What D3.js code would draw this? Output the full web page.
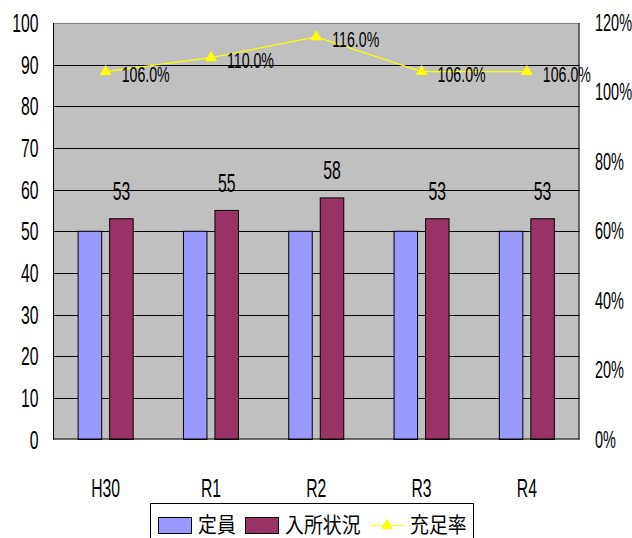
<!DOCTYPE html>
<html>
<head>
<meta charset="utf-8">
<script src="https://cdn.jsdelivr.net/npm/d3@7/dist/d3.min.js"></script>
<style>
  html, body { margin: 0; padding: 0; background: #fff; }
  svg { display: block; }
</style>
</head>
<body>
<svg id="chart" width="632" height="538"></svg>
<script>
// Fiscal years and values
const categories = ["H30", "R1", "R2", "R3", "R4"];
const capacity = [50, 50, 50, 50, 50];        // 定員
const enrolled = [53, 55, 58, 53, 53];        // 入所状況
const fillRate = [106.0, 110.0, 116.0, 106.0, 106.0]; // 充足率 (%)
const leftTicks = [0, 10, 20, 30, 40, 50, 60, 70, 80, 90, 100];
const rightTicks = [0, 20, 40, 60, 80, 100, 120];

const seriesNames = ["定員", "入所状況", "充足率"];
const colors = { cap: "#9999ff", enr: "#993366", rate: "#ffff00" };

const svg = d3.select("#chart");
const plot = { left: 53, right: 579.5, top: 23, bottom: 439.5 };

const FONT = "'Liberation Sans', Arial, sans-serif";
const SX = 0.63; // condensed glyph width

const x0 = d3.scaleBand().domain(categories).range([plot.left, plot.right]).padding(0);
const x1 = d3.scaleBand().domain(["cap", "enr"]).range([-27.5, 27.5]).paddingInner(0.254).paddingOuter(0);
const yL = d3.scaleLinear().domain([0, 100]).range([plot.bottom, plot.top]);
const yR = d3.scaleLinear().domain([0, 120]).range([plot.bottom, plot.top]);
const cx = c => x0(c) + x0.bandwidth() / 2;

// condensed text helper
function label(g, x, y, str, size, anchor, sx) {
  return g.append("text")
    .attr("transform", `translate(${x},${y}) scale(${sx},1)`)
    .attr("text-anchor", anchor)
    .attr("font-family", FONT)
    .attr("font-size", size)
    .attr("fill", "#000")
    .text(str);
}

// plot background
svg.append("rect")
  .attr("x", plot.left).attr("y", plot.top)
  .attr("width", plot.right - plot.left).attr("height", plot.bottom - plot.top)
  .attr("fill", "#c0c0c0");

// horizontal gridlines
svg.append("g").selectAll("line").data(leftTicks.filter(d => d > 0 && d < 100)).join("line")
  .attr("x1", plot.left).attr("x2", plot.right)
  .attr("y1", d => Math.round(yL(d)) + 0.5).attr("y2", d => Math.round(yL(d)) + 0.5)
  .attr("stroke", "#000").attr("stroke-width", 1);

// top border
svg.append("line")
  .attr("x1", plot.left).attr("x2", plot.right)
  .attr("y1", plot.top + 0.5).attr("y2", plot.top + 0.5)
  .attr("stroke", "#808080");

// bars
const groups = svg.append("g").selectAll("g").data(categories).join("g")
  .attr("transform", c => `translate(${cx(c)},0)`);

groups.append("rect")
  .attr("x", (c) => x1("cap"))
  .attr("width", x1.bandwidth())
  .attr("y", (c, i) => yL(capacity[i]))
  .attr("height", (c, i) => yL(0) - yL(capacity[i]))
  .attr("fill", colors.cap).attr("stroke", "#000").attr("stroke-width", 1);

groups.append("rect")
  .attr("x", (c) => x1("enr"))
  .attr("width", x1.bandwidth())
  .attr("y", (c, i) => yL(enrolled[i]))
  .attr("height", (c, i) => yL(0) - yL(enrolled[i]))
  .attr("fill", colors.enr).attr("stroke", "#000").attr("stroke-width", 1);

// enrolled value labels
categories.forEach((c, i) => {
  label(svg, cx(c) + x1("enr") + x1.bandwidth() / 2, yL(enrolled[i]) - 18.5, String(enrolled[i]), 25, "middle", SX);
});

// axes lines (left, right, bottom)
svg.append("line").attr("x1", plot.left + 0.5).attr("x2", plot.left + 0.5)
  .attr("y1", plot.top).attr("y2", plot.bottom).attr("stroke", "#000");
svg.append("line").attr("x1", plot.right - 0.5).attr("x2", plot.right - 0.5)
  .attr("y1", plot.top).attr("y2", plot.bottom).attr("stroke", "#000");
svg.append("line").attr("x1", plot.left).attr("x2", plot.right)
  .attr("y1", plot.bottom - 0.5).attr("y2", plot.bottom - 0.5).attr("stroke", "#000");

// fill-rate line
const line = d3.line().x((d, i) => cx(categories[i])).y(d => yR(d));
svg.append("path").datum(fillRate)
  .attr("d", line).attr("fill", "none")
  .attr("stroke", colors.rate).attr("stroke-width", 1.2);

const tri = d3.symbol().type(d3.symbolTriangle).size(62);
svg.append("g").selectAll("path").data(fillRate).join("path")
  .attr("d", tri)
  .attr("transform", (d, i) => `translate(${cx(categories[i])},${yR(d)})`)
  .attr("fill", colors.rate);

fillRate.forEach((d, i) => {
  label(svg, cx(categories[i]) + 16, yR(d) + 10, d.toFixed(1) + "%", 22.5, "start", SX);
});

// left axis labels
leftTicks.forEach(t => label(svg, 38.5, yL(t) + 9, String(t), 25, "end", SX));
// right axis labels
rightTicks.forEach(t => label(svg, 595, yR(t) + 8, t + "%", 23, "start", SX));
// category labels
categories.forEach(c => label(svg, cx(c), 497, c, 25, "middle", SX));

// legend
const lg = svg.append("g");
lg.append("rect").attr("x", 150.5).attr("y", 503.5).attr("width", 323).attr("height", 45)
  .attr("fill", "#fff").attr("stroke", "#000");
lg.append("rect").attr("x", 158.5).attr("y", 517.5).attr("width", 33).attr("height", 16)
  .attr("fill", colors.cap).attr("stroke", "#000");
lg.append("rect").attr("x", 245.5).attr("y", 517.5).attr("width", 33).attr("height", 16)
  .attr("fill", colors.enr).attr("stroke", "#000");
lg.append("line").attr("x1", 370).attr("x2", 404).attr("y1", 525.5).attr("y2", 525.5)
  .attr("stroke", colors.rate).attr("stroke-width", 1.2);
lg.append("path").attr("d", tri).attr("transform", "translate(387,525.5)").attr("fill", colors.rate);

const legendText = [[198, seriesNames[0]], [285, seriesNames[1]], [410, seriesNames[2]]];
legendText.forEach(([x, t]) => {
  lg.append("text")
    .attr("transform", `translate(${x},532) scale(0.9,1)`)
    .attr("font-family", "'Noto Sans CJK JP', sans-serif")
    .attr("font-size", 21)
    .attr("letter-spacing", 0)
    .attr("fill", "#000")
    .text(t);
});
</script>
</body>
</html>
